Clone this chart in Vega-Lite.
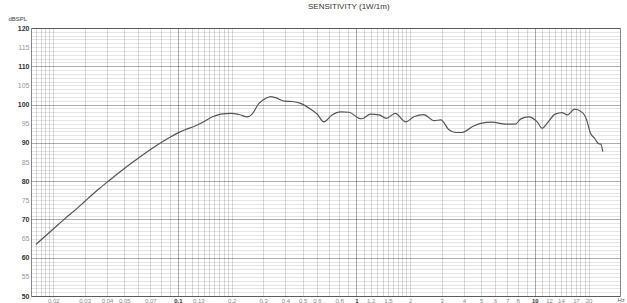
{
  "$schema": "https://vega.github.io/schema/vega-lite/v6.json",
  "width": 589,
  "height": 268,
  "autosize": {"type": "none"},
  "padding": {"left": 31, "top": 28, "right": 7, "bottom": 7},
  "background": "white",
  "config": {
    "view": {"stroke": "#8a8a8a", "strokeWidth": 1},
    "font": "Liberation Sans"
  },
  "title": {
    "text": "SENSITIVITY (1W/1m)",
    "anchor": "start",
    "dx": 300,
    "offset": 4,
    "fontSize": 8,
    "fontWeight": "normal",
    "color": "#333"
  },
  "data": {
    "values": [
      {"f": 0.016, "db": 63.5},
      {"f": 0.018, "db": 65.6},
      {"f": 0.02, "db": 67.5},
      {"f": 0.0235, "db": 70.4},
      {"f": 0.0272, "db": 72.9},
      {"f": 0.03, "db": 74.7},
      {"f": 0.0361, "db": 78.0},
      {"f": 0.041, "db": 80.1},
      {"f": 0.0488, "db": 82.9},
      {"f": 0.0579, "db": 85.5},
      {"f": 0.0718, "db": 88.6},
      {"f": 0.0853, "db": 90.8},
      {"f": 0.1, "db": 92.6},
      {"f": 0.1104, "db": 93.5},
      {"f": 0.122, "db": 94.2},
      {"f": 0.137, "db": 95.3},
      {"f": 0.156, "db": 96.8},
      {"f": 0.1735, "db": 97.5},
      {"f": 0.199, "db": 97.7},
      {"f": 0.22, "db": 97.4},
      {"f": 0.245, "db": 96.8},
      {"f": 0.26, "db": 97.5},
      {"f": 0.284, "db": 100.3},
      {"f": 0.31, "db": 101.6},
      {"f": 0.33, "db": 102.1},
      {"f": 0.352, "db": 101.8},
      {"f": 0.393, "db": 100.9},
      {"f": 0.438, "db": 100.8},
      {"f": 0.487, "db": 100.3},
      {"f": 0.545, "db": 99.0},
      {"f": 0.603, "db": 97.5},
      {"f": 0.657, "db": 95.5},
      {"f": 0.73, "db": 97.3},
      {"f": 0.815, "db": 98.1},
      {"f": 0.91, "db": 98.0},
      {"f": 1.035, "db": 96.4},
      {"f": 1.07, "db": 96.3},
      {"f": 1.2, "db": 97.5},
      {"f": 1.34, "db": 97.3},
      {"f": 1.47, "db": 96.4},
      {"f": 1.65, "db": 97.7},
      {"f": 1.89, "db": 95.5},
      {"f": 2.1, "db": 96.8},
      {"f": 2.38, "db": 97.4},
      {"f": 2.73, "db": 95.8},
      {"f": 2.97, "db": 96.0},
      {"f": 3.3, "db": 93.4},
      {"f": 3.6, "db": 92.7},
      {"f": 3.92, "db": 92.7},
      {"f": 4.45, "db": 94.2},
      {"f": 4.96, "db": 95.1},
      {"f": 5.75, "db": 95.4},
      {"f": 6.85, "db": 94.9},
      {"f": 7.8, "db": 94.9},
      {"f": 8.3, "db": 96.2},
      {"f": 9.25, "db": 96.8},
      {"f": 10.3, "db": 95.5},
      {"f": 11.0, "db": 93.8},
      {"f": 11.7, "db": 95.1},
      {"f": 13.0, "db": 97.5},
      {"f": 14.2, "db": 97.9},
      {"f": 15.2, "db": 97.3},
      {"f": 16.7, "db": 98.8},
      {"f": 18.5, "db": 97.9},
      {"f": 19.5, "db": 96.0},
      {"f": 20.5, "db": 92.5},
      {"f": 21.6, "db": 91.2},
      {"f": 22.6, "db": 89.9},
      {"f": 23.5, "db": 89.6},
      {"f": 24.0, "db": 87.7}
    ]
  },
  "mark": {"type": "line", "color": "#555", "strokeWidth": 1.2, "interpolate": "monotone"},
  "encoding": {
    "x": {
      "field": "f",
      "type": "quantitative",
      "scale": {"type": "log", "domain": [0.015, 30], "nice": false},
      "axis": {
        "values": [0.016, 0.017, 0.018, 0.019, 0.02, 0.03, 0.04, 0.05, 0.06, 0.07, 0.08, 0.09, 0.1, 0.11, 0.12, 0.13, 0.14, 0.15, 0.16, 0.17, 0.18, 0.19, 0.2, 0.3, 0.4, 0.5, 0.6, 0.7, 0.8, 0.9, 1, 1.1, 1.2, 1.3, 1.4, 1.5, 1.6, 1.7, 1.8, 1.9, 2, 3, 4, 5, 6, 7, 8, 9, 10, 11, 12, 13, 14, 15, 16, 17, 18, 19, 20],
        "labelExpr": "indexof([0.02,0.03,0.04,0.05,0.07,0.1,0.13,0.2,0.3,0.4,0.5,0.6,0.8,1,1.2,1.5,2,3,4,5,6,7,8,10,12,14,17,20], datum.value) >= 0 ? format(datum.value, '~g') : ''",
        "labelOverlap": false,
        "labelFontSize": 6,
        "labelPadding": 1,
        "labelColor": {"condition": {"test": "datum.value == 0.1 || datum.value == 1 || datum.value == 10", "value": "#333"}, "value": "#888"},
        "labelFontWeight": {"condition": {"test": "datum.value == 0.1 || datum.value == 1 || datum.value == 10", "value": "bold"}, "value": "normal"},
        "ticks": false,
        "domain": false,
        "grid": true,
        "gridColor": "#000",
        "gridOpacity": {"condition": {"test": "datum.value == 0.1 || datum.value == 1 || datum.value == 10", "value": 0.33}, "value": 0.15},
        "gridWidth": 1,
        "title": "Hz",
        "titleFontSize": 6,
        "titleFontWeight": "normal",
        "titleColor": "#666",
        "titleX": 586,
        "titleY": 6,
        "titleAlign": "left",
        "titleBaseline": "bottom"
      }
    },
    "y": {
      "field": "db",
      "type": "quantitative",
      "scale": {"domain": [50, 120], "nice": false, "zero": false},
      "axis": {
        "values": [50,51,52,53,54,55,56,57,58,59,60,61,62,63,64,65,66,67,68,69,70,71,72,73,74,75,76,77,78,79,80,81,82,83,84,85,86,87,88,89,90,91,92,93,94,95,96,97,98,99,100,101,102,103,104,105,106,107,108,109,110,111,112,113,114,115,116,117,118,119,120],
        "labelExpr": "datum.value % 5 == 0 ? datum.label : ''",
        "labelOverlap": false,
        "labelFontSize": 7,
        "labelPadding": 2,
        "labelColor": {"condition": {"test": "datum.value % 10 == 0", "value": "#333"}, "value": "#999"},
        "labelFontWeight": {"condition": {"test": "datum.value % 10 == 0", "value": "bold"}, "value": "normal"},
        "ticks": false,
        "domain": false,
        "grid": true,
        "gridColor": "#000",
        "gridOpacity": {"condition": {"test": "datum.value % 10 == 0", "value": 0.32}, "value": 0.1},
        "gridWidth": 1,
        "title": "dBSPL",
        "titleFontSize": 6,
        "titleFontWeight": "normal",
        "titleColor": "#444",
        "titleAngle": 0,
        "titleX": -23,
        "titleY": -8,
        "titleAlign": "left",
        "titleBaseline": "alphabetic"
      }
    }
  }
}
